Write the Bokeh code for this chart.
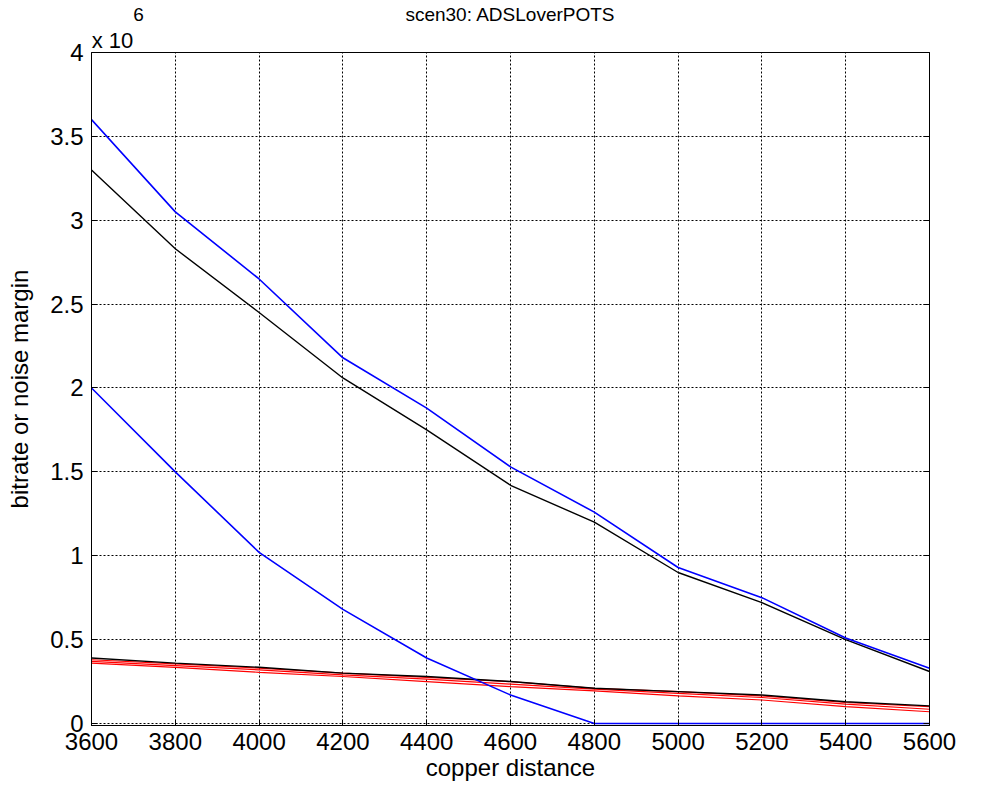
from bokeh.plotting import figure
from bokeh.models import FixedTicker, LinearAxis, Range1d
from bokeh.embed import file_html
from bokeh.resources import INLINE

# ---- data (values in units of 1e6) ----
distance = [3600, 3800, 4000, 4200, 4400, 4600, 4800, 5000, 5200, 5400, 5600]
blue_upper = [3.60, 3.05, 2.65, 2.18, 1.88, 1.53, 1.26, 0.93, 0.75, 0.51, 0.33]
black_upper = [3.30, 2.83, 2.45, 2.06, 1.75, 1.42, 1.20, 0.90, 0.72, 0.50, 0.31]
blue_lower = [2.00, 1.50, 1.02, 0.68, 0.39, 0.17, 0.00, 0.00, 0.00, 0.00, 0.00]
black_lower = [0.39, 0.36, 0.335, 0.30, 0.28, 0.25, 0.21, 0.19, 0.17, 0.13, 0.105]
red_1 = [0.38, 0.355, 0.33, 0.30, 0.275, 0.25, 0.21, 0.19, 0.165, 0.125, 0.10]
red_2 = [0.37, 0.345, 0.32, 0.29, 0.265, 0.235, 0.205, 0.18, 0.155, 0.115, 0.085]
red_3 = [0.36, 0.335, 0.305, 0.28, 0.25, 0.22, 0.195, 0.165, 0.14, 0.10, 0.07]

x_ticks = [3600, 3800, 4000, 4200, 4400, 4600, 4800, 5000, 5200, 5400, 5600]
y_ticks = [0, 0.5, 1, 1.5, 2, 2.5, 3, 3.5, 4]
y_tick_labels = ["0", "0.5", "1", "1.5", "2", "2.5", "3", "3.5", "4"]
title_text = "scen30: ADSLoverPOTS"
exponent_base = "x 10"
exponent_power = "6"

FONT = "Liberation Sans"
TICK_SIZE = "24px"

p = figure(width=973, height=791, output_backend="svg", toolbar_location=None,
           x_range=Range1d(3600, 5600), y_range=Range1d(-0.012, 4),
           min_border_left=91, min_border_right=44, min_border_top=47, min_border_bottom=66,
           title=None)

p.outline_line_color = "black"
p.outline_line_width = 1

for ax in (p.xaxis[0], p.yaxis[0]):
    ax.major_tick_in = 6
    ax.major_tick_out = 0
    ax.minor_tick_in = 0
    ax.minor_tick_out = 0
    ax.major_label_text_font = FONT
    ax.major_label_text_font_size = TICK_SIZE
    ax.major_label_text_color = "black"
    ax.axis_label_text_font = FONT
    ax.axis_label_text_font_size = TICK_SIZE
    ax.axis_label_text_font_style = "normal"
    ax.axis_label_text_color = "black"
    ax.axis_line_color = "black"
    ax.major_tick_line_color = "black"

p.xaxis[0].ticker = FixedTicker(ticks=x_ticks)
p.yaxis[0].ticker = FixedTicker(ticks=y_ticks)
p.yaxis[0].major_label_overrides = {t: l for t, l in zip(y_ticks, y_tick_labels)}
p.xaxis[0].axis_label = "copper distance"
p.yaxis[0].axis_label = "bitrate or noise margin"
p.xaxis[0].major_label_standoff = 7
p.yaxis[0].major_label_standoff = 8
p.xaxis[0].axis_label_standoff = 1
p.yaxis[0].axis_label_standoff = 14

# box axis on the right with inward ticks, no labels
right = LinearAxis(ticker=FixedTicker(ticks=y_ticks),
                   major_label_overrides={t: "" for t in y_ticks},
                   major_tick_in=6, major_tick_out=0, minor_tick_in=0, minor_tick_out=0,
                   major_label_standoff=0)
p.add_layout(right, "right")

# row just above the frame: exponent base "x 10" (an unlined axis used as a text row)
exp_pos = 3650
pow_pos = 3712
title_pos = 4600
row1 = LinearAxis(ticker=FixedTicker(ticks=[exp_pos]),
                  major_label_overrides={exp_pos: exponent_base},
                  axis_line_color=None, major_tick_line_color=None,
                  major_tick_in=0, major_tick_out=0, minor_tick_in=0, minor_tick_out=0,
                  major_label_standoff=0, major_label_text_font=FONT,
                  major_label_text_font_size="22px", major_label_text_color="black")
# top row: superscript "6" and the title
row2 = LinearAxis(ticker=FixedTicker(ticks=[pow_pos, title_pos]),
                  major_label_overrides={pow_pos: exponent_power, title_pos: title_text},
                  axis_line_color=None, major_tick_line_color=None,
                  major_tick_in=0, major_tick_out=0, minor_tick_in=0, minor_tick_out=0,
                  major_label_standoff=0, major_label_text_font=FONT,
                  major_label_text_font_size="19px", major_label_text_color="black")
p.add_layout(row1, "above")
p.add_layout(row2, "above")

p.xgrid[0].ticker = FixedTicker(ticks=x_ticks)
p.ygrid[0].ticker = FixedTicker(ticks=y_ticks)
for g in (p.xgrid[0], p.ygrid[0]):
    g.grid_line_color = "black"
    g.grid_line_alpha = 1.0
    g.grid_line_dash = "2 2"
    g.grid_line_width = 1

p.line(distance, red_3, color="#ff0000", line_width=1.2)
p.line(distance, red_2, color="#ff0000", line_width=1.2)
p.line(distance, red_1, color="#ff0000", line_width=1.2)
p.line(distance, black_lower, color="black", line_width=1.4)
p.line(distance, black_upper, color="black", line_width=1.4)
p.line(distance, blue_upper, color="#0000ff", line_width=1.6)
p.line(distance, blue_lower, color="#0000ff", line_width=1.6)

open("out.html", "w").write(file_html(p, INLINE))
